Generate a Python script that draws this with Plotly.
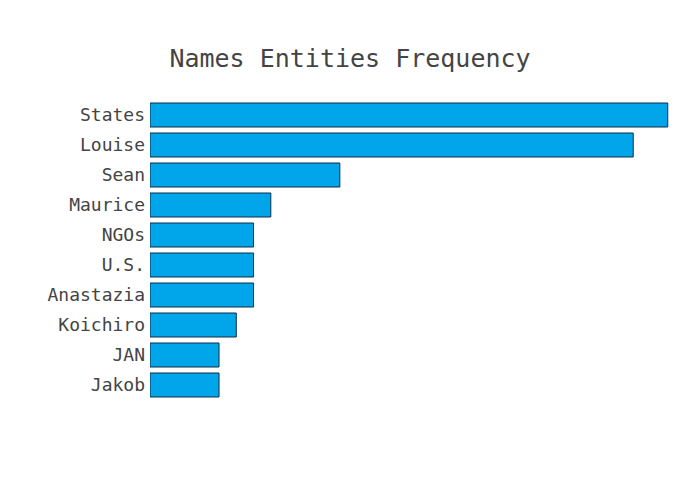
import plotly.graph_objects as go

names = ["States", "Louise", "Sean", "Maurice", "NGOs", "U.S.", "Anastazia", "Koichiro", "JAN", "Jakob"]
counts = [30, 28, 11, 7, 6, 6, 6, 5, 4, 4]

fig = go.Figure(go.Bar(
    x=counts[::-1],
    y=names[::-1],
    orientation="h",
    marker=dict(color="#00a6e9", line=dict(color="#0d2d4a", width=1)),
))
fig.update_layout(
    title=dict(text="Names Entities Frequency", xref="container", x=0.4886, xanchor="center",
               yref="container", y=0.899, yanchor="middle"),
    font=dict(family="DejaVu Sans Mono, monospace", size=18, color="#444"),
    width=700, height=500,
    margin=dict(l=142, r=13, t=92, b=108, pad=4),
    paper_bgcolor="white", plot_bgcolor="white",
    xaxis=dict(showticklabels=False, showgrid=False, zeroline=False, showline=False),
    yaxis=dict(showgrid=False, zeroline=False, showline=False),
    bargap=0.2,
)
fig.write_html("out.html")
